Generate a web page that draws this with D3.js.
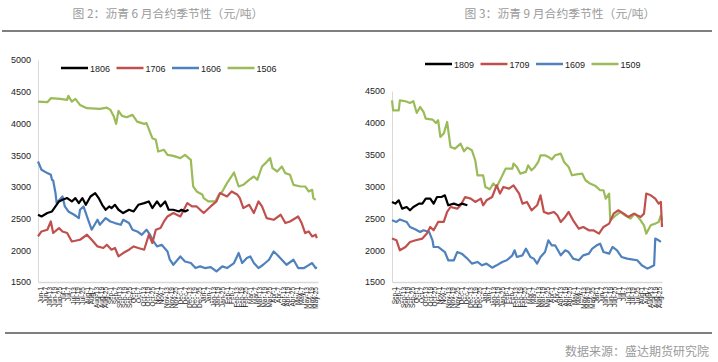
<!DOCTYPE html>
<html>
<head>
<meta charset="utf-8">
<script src="https://cdn.jsdelivr.net/npm/d3@7"></script>
<style>
  body { margin: 0; background: #fff; }
  svg { display: block; }
</style>
</head>
<body>
<div id="chart-container"></div>
<script>
// ---- data: [trading day, price] ----
const june1806 = [[0,2560],[3,2533],[8,2587],[12,2612],[15,2691],[18,2770],[21,2796],[25,2823],[29,2770],[32,2823],[35,2744],[38,2823],[41,2717],[45,2848],[49,2902],[52,2823],[55,2717],[58,2639],[61,2691],[63,2665],[66,2717],[69,2639],[73,2587],[78,2639],[82,2612],[86,2717],[91,2744],[95,2770],[98,2665],[102,2770],[105,2691],[109,2770],[112,2639],[116,2639],[121,2612],[123,2639],[126,2612],[129,2639]];
const june1706 = [[0,2218],[3,2297],[8,2324],[11,2454],[13,2272],[18,2350],[21,2297],[25,2272],[29,2139],[36,2166],[42,2245],[46,2166],[51,2061],[56,2036],[59,2087],[63,2009],[66,2036],[69,1903],[73,1957],[78,2009],[82,2061],[86,2036],[91,2009],[95,2245],[98,2114],[101,2324],[105,2350],[108,2454],[111,2533],[116,2587],[122,2533],[125,2639],[128,2744],[132,2691],[136,2691],[142,2587],[148,2691],[153,2770],[156,2902],[162,2848],[166,2927],[171,2875],[173,2823],[176,2665],[181,2717],[185,2587],[189,2770],[192,2691],[196,2508],[202,2481],[208,2560],[212,2429],[216,2454],[223,2533],[226,2429],[229,2272],[232,2297],[235,2218],[238,2245],[239,2192]];
const june1606 = [[0,3400],[3,3269],[8,3217],[11,3190],[12,3111],[13,3100],[15,2902],[16,2744],[21,2848],[23,2691],[26,2612],[31,2560],[35,2508],[36,2639],[39,2691],[43,2481],[46,2324],[51,2481],[53,2402],[58,2508],[62,2454],[66,2429],[71,2402],[73,2481],[78,2429],[81,2324],[85,2297],[89,2245],[93,2324],[96,2245],[99,2139],[102,2061],[106,2087],[111,1982],[113,1851],[116,1772],[122,1903],[126,1824],[131,1799],[135,1720],[139,1746],[143,1720],[148,1735],[153,1667],[158,1746],[162,1720],[168,1799],[172,1957],[175,1799],[179,1878],[182,1903],[185,1799],[189,1720],[193,1772],[198,1851],[202,1982],[205,1930],[209,1851],[213,1772],[219,1851],[223,1720],[228,1720],[231,1755],[235,1799],[238,1720],[239,1735]];
const june1506 = [[0,4344],[8,4335],[11,4398],[19,4387],[25,4371],[26,4434],[29,4344],[32,4387],[36,4292],[42,4240],[53,4229],[59,4250],[62,4214],[65,4108],[67,3993],[69,4198],[72,4119],[76,4098],[81,4135],[85,4029],[91,3993],[93,4004],[98,3768],[101,3741],[103,3557],[108,3584],[111,3505],[116,3489],[122,3453],[126,3505],[131,3426],[133,3006],[136,2927],[141,2875],[142,2823],[146,2770],[152,2770],[155,2875],[158,2927],[162,3059],[168,3226],[172,3006],[176,3032],[181,3111],[185,3163],[188,3111],[192,3321],[195,3374],[199,3453],[201,3295],[205,3242],[209,3321],[212,3216],[216,3190],[219,3032],[225,3006],[229,3006],[232,2927],[235,2954],[236,2823],[238,2796]];

const sep1809 = [[0,2757],[3,2731],[6,2783],[9,2652],[13,2678],[16,2626],[19,2678],[24,2731],[27,2731],[30,2809],[34,2809],[37,2731],[40,2835],[44,2835],[47,2862],[50,2705],[55,2731],[59,2705],[62,2731],[67,2705]];
const sep1709 = [[0,2182],[4,2155],[7,1998],[12,2050],[16,2129],[21,2155],[27,2182],[31,2260],[34,2364],[37,2312],[41,2443],[46,2443],[49,2600],[52,2678],[58,2652],[61,2705],[65,2835],[70,2809],[74,2757],[79,2809],[81,2705],[84,2783],[89,2835],[93,3019],[96,2889],[99,2993],[104,2967],[108,3019],[113,2889],[116,2731],[120,2757],[124,2626],[129,2705],[132,2862],[135,2600],[139,2574],[144,2600],[147,2548],[150,2443],[154,2522],[157,2600],[161,2469],[166,2338],[170,2364],[175,2312],[179,2312],[184,2260],[188,2364],[193,2417],[197,2574],[201,2626],[206,2574],[210,2522],[215,2574],[221,2522],[224,2574],[226,2889],[230,2862],[234,2809],[237,2731],[239,2757],[240,2364]];
const sep1609 = [[0,2469],[4,2443],[7,2482],[13,2443],[16,2364],[21,2325],[25,2286],[28,2312],[33,2286],[36,2155],[37,2050],[41,2050],[47,1971],[50,1841],[55,1841],[58,1971],[62,1945],[67,1867],[71,1789],[76,1815],[80,1762],[84,1789],[89,1725],[93,1762],[98,1815],[102,1841],[107,1919],[109,1998],[111,1893],[116,1919],[119,2024],[123,1893],[126,1867],[129,1789],[132,1893],[136,1971],[139,2155],[142,2076],[145,2076],[150,1919],[154,1998],[157,1971],[161,1867],[166,1841],[170,1919],[175,1945],[178,2024],[182,2076],[185,2102],[188,1971],[193,1945],[196,2050],[200,1998],[204,1893],[209,1867],[213,1856],[218,1841],[222,1762],[227,1710],[230,1736],[233,1762],[234,2182],[237,2155],[239,2129]];
const sep1509 = [[0,4354],[1,4197],[6,4197],[7,4354],[12,4339],[16,4312],[19,4339],[22,4155],[25,4249],[28,4171],[30,4067],[36,4051],[39,3998],[41,4040],[43,3778],[46,3831],[49,4014],[52,3621],[56,3595],[61,3674],[64,3553],[67,3611],[71,3569],[74,3412],[76,3176],[81,3176],[83,2993],[87,2956],[90,3046],[93,2993],[96,3098],[101,3281],[107,3281],[108,3360],[111,3307],[114,3203],[119,3229],[121,3333],[124,3255],[127,3307],[130,3385],[132,3490],[136,3490],[139,3464],[142,3425],[145,3490],[150,3517],[153,3385],[157,3307],[160,3176],[164,3190],[169,3203],[172,3098],[176,3046],[181,3006],[185,2941],[188,2941],[190,2810],[193,2889],[194,2469],[199,2548],[203,2600],[207,2548],[212,2496],[216,2574],[221,2469],[224,2391],[226,2260],[230,2391],[234,2417],[237,2443],[239,2548],[240,2469]];

const juneNames = ["1806", "1706", "1606", "1506"];
const sepNames = ["1809", "1709", "1609", "1509"];
const juneTicks = [1500, 2000, 2500, 3000, 3500, 4000, 4500, 5000];
const sepTicks = [1500, 2000, 2500, 3000, 3500, 4000, 4500];
const juneDates = ["Jun-1","Jun-7","Jun-13","Jun-19","Jun-25","Jul-1","Jul-7","Jul-13","Jul-19","Jul-25","Aug-1","Aug-7","Aug-13","Aug-19","Aug-25","Sep-1","Sep-7","Sep-13","Sep-19","Sep-25","Oct-1","Oct-7","Oct-13","Oct-19","Oct-25","Nov-1","Nov-7","Nov-13","Nov-19","Nov-25","Dec-1","Dec-7","Dec-13","Dec-19","Dec-25","Jan-1","Jan-7","Jan-13","Jan-19","Jan-25","Feb-1","Feb-7","Feb-13","Feb-19","Feb-25","Mar-1","Mar-7","Mar-13","Mar-19","Mar-25","Apr-1","Apr-7","Apr-13","Apr-19","Apr-25","May-1","May-7","May-13","May-19","May-25"];
const sepDates = ["Sep-1","Sep-7","Sep-13","Sep-19","Sep-25","Oct-1","Oct-7","Oct-13","Oct-19","Oct-25","Nov-1","Nov-7","Nov-13","Nov-19","Nov-25","Dec-1","Dec-7","Dec-13","Dec-19","Dec-25","Jan-1","Jan-7","Jan-13","Jan-19","Jan-25","Feb-1","Feb-7","Feb-13","Feb-19","Feb-25","Mar-1","Mar-7","Mar-13","Mar-19","Mar-25","Apr-1","Apr-7","Apr-13","Apr-19","Apr-25","May-1","May-7","May-13","May-19","May-25","Jun-1","Jun-7","Jun-13","Jun-19","Jun-25","Jul-1","Jul-7","Jul-13","Jul-19","Jul-25","Aug-1","Aug-7","Aug-13","Aug-19","Aug-25"];

const COLORS = ["#000000", "#C0504D", "#4F81BD", "#9BBB59"];
const W = 718, H = 362;
const LABEL_FONT = "'Liberation Sans', Arial, sans-serif";
const CJK_FONT = "'Noto Sans CJK SC', sans-serif";

const svg = d3.select("#chart-container")
  .append("svg")
  .attr("width", W)
  .attr("height", H);

// titles and separator rules
svg.append("text")
  .attr("x", 168).attr("y", 18)
  .attr("text-anchor", "middle")
  .attr("font-family", CJK_FONT).attr("font-size", 11.8)
  .attr("fill", "#9a9a9a")
  .text("图 2：沥青 6 月合约季节性（元/吨）");
svg.append("text")
  .attr("x", 560).attr("y", 18)
  .attr("text-anchor", "middle")
  .attr("font-family", CJK_FONT).attr("font-size", 11.8)
  .attr("fill", "#9a9a9a")
  .text("图 3：沥青 9 月合约季节性（元/吨）");
svg.append("line")
  .attr("x1", 2).attr("x2", 712).attr("y1", 31).attr("y2", 31)
  .attr("stroke", "#7f7f7f").attr("stroke-width", 2);
svg.append("line")
  .attr("x1", 5).attr("x2", 712).attr("y1", 333).attr("y2", 333)
  .attr("stroke", "#7f7f7f").attr("stroke-width", 2);
svg.append("text")
  .attr("x", 709).attr("y", 356)
  .attr("text-anchor", "end")
  .attr("font-family", CJK_FONT).attr("font-size", 12)
  .attr("fill", "#9a9a9a")
  .text("数据来源：盛达期货研究院");

function drawPanel(cfg) {
  const x = d3.scaleLinear().domain([0, 240]).range([cfg.left, cfg.right]);
  const y = d3.scaleLinear().domain(cfg.yDomain).range([cfg.bottom, cfg.top]);

  // Y axis
  const gy = svg.append("g")
    .attr("transform", `translate(${cfg.left},0)`)
    .call(d3.axisLeft(y).tickValues(cfg.yTicks).tickSize(0).tickPadding(7).tickFormat(d3.format("d")));
  gy.select(".domain").attr("stroke", "#d9d9d9");
  gy.selectAll("text").attr("font-family", LABEL_FONT).attr("font-size", 9).attr("fill", "#222");

  // X axis with rotated date labels
  const step = 240 / cfg.dates.length;
  const gx = svg.append("g")
    .attr("transform", `translate(0,${cfg.bottom})`)
    .call(d3.axisBottom(x)
      .tickValues(cfg.dates.map((d, i) => i * step + step / 2))
      .tickSize(0)
      .tickFormat((d, i) => cfg.dates[i]));
  gx.select(".domain").attr("stroke", "#d9d9d9").attr("stroke-width", 1.5);
  gx.selectAll("text")
    .attr("font-family", LABEL_FONT).attr("font-size", 6.5).attr("fill", "#222")
    .attr("text-anchor", "end")
    .attr("dx", "-3").attr("dy", "0.32em")
    .attr("transform", "rotate(-90)")
    .attr("y", 0).attr("x", -2);

  const line = d3.line()
    .x(d => x(d[0]))
    .y(d => y(d[1]));

  // draw oldest first so the newest contract sits on top
  for (let i = cfg.series.length - 1; i >= 0; i--) {
    svg.append("path")
      .datum(cfg.series[i])
      .attr("fill", "none")
      .attr("stroke", COLORS[i])
      .attr("stroke-width", 2.2)
      .attr("stroke-linejoin", "round")
      .attr("d", line);
  }

  // legend
  cfg.names.forEach((name, i) => {
    const lx = cfg.legendX + i * cfg.legendStep;
    svg.append("line")
      .attr("x1", lx).attr("x2", lx + 27)
      .attr("y1", cfg.legendY).attr("y2", cfg.legendY)
      .attr("stroke", COLORS[i]).attr("stroke-width", 2.5);
    svg.append("text")
      .attr("x", lx + 29).attr("y", cfg.legendY + 3.5)
      .attr("font-family", LABEL_FONT).attr("font-size", 9).attr("fill", "#222")
      .text(name);
  });
}

drawPanel({
  left: 38, right: 318, top: 60, bottom: 282,
  yDomain: [1500, 5000], yTicks: juneTicks,
  dates: juneDates,
  series: [june1806, june1706, june1606, june1506],
  names: juneNames,
  legendX: 61, legendY: 68, legendStep: 55.5
});

drawPanel({
  left: 392, right: 662, top: 91, bottom: 282,
  yDomain: [1500, 4500], yTicks: sepTicks,
  dates: sepDates,
  series: [sep1809, sep1709, sep1609, sep1509],
  names: sepNames,
  legendX: 425, legendY: 64, legendStep: 55.5
});
</script>
</body>
</html>
